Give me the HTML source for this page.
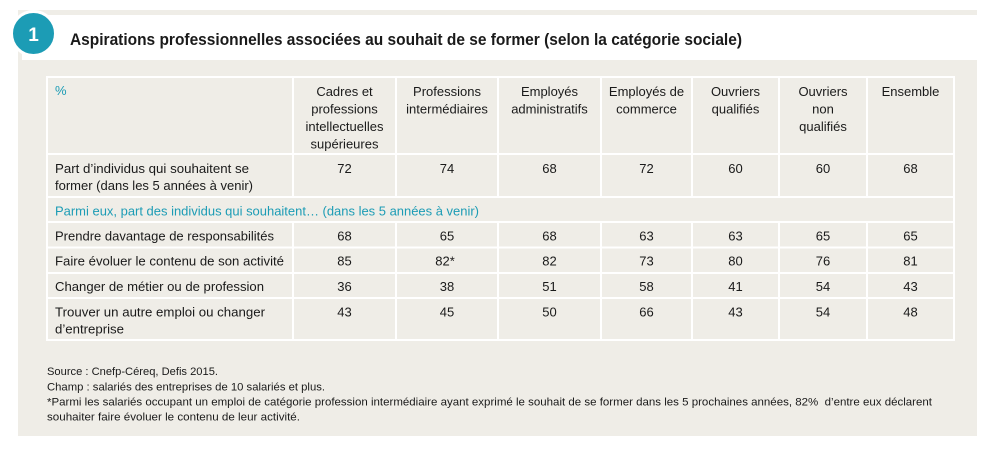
<!DOCTYPE html>
<html>
<head>
<meta charset="utf-8">
<style>
  html, body { margin: 0; padding: 0; background: #ffffff; }
  svg { display: block; }
  text { font-family: "Liberation Sans", "DejaVu Sans", sans-serif; fill: #1a1a1a; }
  .t { font-size: 13px; }
  .c { text-anchor: middle; }
  .teal { fill: #1c9cb5; }
  .f { font-size: 11px; }
</style>
</head>
<body>
<svg width="1000" height="450" viewBox="0 0 1000 450" xmlns="http://www.w3.org/2000/svg">
  <!-- panel -->
  <rect x="18" y="10" width="959" height="426" fill="#efede7"/>
  <!-- title band -->
  <rect x="22" y="15" width="955" height="45" fill="#ffffff"/>
  <!-- circle -->
  <circle cx="33.5" cy="33.5" r="22" fill="#1c9cb5" stroke="#ffffff" stroke-width="3"/>
  <text x="33.5" y="41" text-anchor="middle" font-size="19" font-weight="bold" style="fill:#ffffff">1</text>
  <!-- title -->
  <text x="70" y="45" font-size="16.5" font-weight="bold" textLength="672" lengthAdjust="spacingAndGlyphs">Aspirations professionnelles associées au souhait de se former (selon la catégorie sociale)</text>

  <!-- table grid -->
  <g stroke="#ffffff" stroke-width="2" fill="none">
    <rect x="47" y="77" width="907" height="263"/>
    <line x1="47" y1="154" x2="954" y2="154"/>
    <line x1="47" y1="197" x2="954" y2="197"/>
    <line x1="47" y1="222" x2="954" y2="222"/>
    <line x1="47" y1="247.5" x2="954" y2="247.5"/>
    <line x1="47" y1="273" x2="954" y2="273"/>
    <line x1="47" y1="298" x2="954" y2="298"/>
    <g>
      <line x1="293" y1="77" x2="293" y2="197"/>
      <line x1="396" y1="77" x2="396" y2="197"/>
      <line x1="498" y1="77" x2="498" y2="197"/>
      <line x1="601" y1="77" x2="601" y2="197"/>
      <line x1="692" y1="77" x2="692" y2="197"/>
      <line x1="779" y1="77" x2="779" y2="197"/>
      <line x1="867" y1="77" x2="867" y2="197"/>
      <line x1="293" y1="222" x2="293" y2="340"/>
      <line x1="396" y1="222" x2="396" y2="340"/>
      <line x1="498" y1="222" x2="498" y2="340"/>
      <line x1="601" y1="222" x2="601" y2="340"/>
      <line x1="692" y1="222" x2="692" y2="340"/>
      <line x1="779" y1="222" x2="779" y2="340"/>
      <line x1="867" y1="222" x2="867" y2="340"/>
    </g>
  </g>

  <!-- header -->
  <text class="t teal" x="55" y="95">%</text>
  <g class="t c">
    <text class="t c" x="344.5" y="96">Cadres et</text>
    <text class="t c" x="344.5" y="113.5">professions</text>
    <text class="t c" x="344.5" y="131">intellectuelles</text>
    <text class="t c" x="344.5" y="148.5">supérieures</text>

    <text class="t c" x="447" y="96">Professions</text>
    <text class="t c" x="447" y="113.5">intermédiaires</text>

    <text class="t c" x="549.5" y="96">Employés</text>
    <text class="t c" x="549.5" y="113.5">administratifs</text>

    <text class="t c" x="646.5" y="96">Employés de</text>
    <text class="t c" x="646.5" y="113.5">commerce</text>

    <text class="t c" x="735.5" y="96">Ouvriers</text>
    <text class="t c" x="735.5" y="113.5">qualifiés</text>

    <text class="t c" x="823" y="96">Ouvriers</text>
    <text class="t c" x="823" y="113.5">non</text>
    <text class="t c" x="823" y="131">qualifiés</text>

    <text class="t c" x="910.5" y="96">Ensemble</text>
  </g>

  <!-- row 1 -->
  <text class="t" x="55" y="173" textLength="194" lengthAdjust="spacingAndGlyphs">Part d’individus qui souhaitent se</text>
  <text class="t" x="55" y="190" textLength="198" lengthAdjust="spacingAndGlyphs">former (dans les 5 années à venir)</text>
  <text class="t c" x="344.5" y="173">72</text>
  <text class="t c" x="447" y="173">74</text>
  <text class="t c" x="549.5" y="173">68</text>
  <text class="t c" x="646.5" y="173">72</text>
  <text class="t c" x="735.5" y="173">60</text>
  <text class="t c" x="823" y="173">60</text>
  <text class="t c" x="910.5" y="173">68</text>

  <!-- subheader -->
  <text class="t teal" x="55" y="215.5" textLength="424" lengthAdjust="spacingAndGlyphs">Parmi eux, part des individus qui souhaitent… (dans les 5 années à venir)</text>

  <!-- Prendre -->
  <text class="t" x="55" y="240.5" textLength="219" lengthAdjust="spacingAndGlyphs">Prendre davantage de responsabilités</text>
  <text class="t c" x="344.5" y="240.5">68</text>
  <text class="t c" x="447" y="240.5">65</text>
  <text class="t c" x="549.5" y="240.5">68</text>
  <text class="t c" x="646.5" y="240.5">63</text>
  <text class="t c" x="735.5" y="240.5">63</text>
  <text class="t c" x="823" y="240.5">65</text>
  <text class="t c" x="910.5" y="240.5">65</text>

  <!-- Faire -->
  <text class="t" x="55" y="265.5" textLength="229" lengthAdjust="spacingAndGlyphs">Faire évoluer le contenu de son activité</text>
  <text class="t c" x="344.5" y="265.5">85</text>
  <text class="t c" x="445" y="265.5">82*</text>
  <text class="t c" x="549.5" y="265.5">82</text>
  <text class="t c" x="646.5" y="265.5">73</text>
  <text class="t c" x="735.5" y="265.5">80</text>
  <text class="t c" x="823" y="265.5">76</text>
  <text class="t c" x="910.5" y="265.5">81</text>

  <!-- Changer -->
  <text class="t" x="55" y="291" textLength="209" lengthAdjust="spacingAndGlyphs">Changer de métier ou de profession</text>
  <text class="t c" x="344.5" y="291">36</text>
  <text class="t c" x="447" y="291">38</text>
  <text class="t c" x="549.5" y="291">51</text>
  <text class="t c" x="646.5" y="291">58</text>
  <text class="t c" x="735.5" y="291">41</text>
  <text class="t c" x="823" y="291">54</text>
  <text class="t c" x="910.5" y="291">43</text>

  <!-- Trouver -->
  <text class="t" x="55" y="316.5" textLength="210" lengthAdjust="spacingAndGlyphs">Trouver un autre emploi ou changer</text>
  <text class="t" x="55" y="333.5" textLength="69" lengthAdjust="spacingAndGlyphs">d’entreprise</text>
  <text class="t c" x="344.5" y="316.5">43</text>
  <text class="t c" x="447" y="316.5">45</text>
  <text class="t c" x="549.5" y="316.5">50</text>
  <text class="t c" x="646.5" y="316.5">66</text>
  <text class="t c" x="735.5" y="316.5">43</text>
  <text class="t c" x="823" y="316.5">54</text>
  <text class="t c" x="910.5" y="316.5">48</text>

  <!-- footer -->
  <text class="f" x="47" y="375" textLength="171" lengthAdjust="spacingAndGlyphs">Source : Cnefp-Céreq, Defis 2015.</text>
  <text class="f" x="47" y="390.5" textLength="278" lengthAdjust="spacingAndGlyphs">Champ : salariés des entreprises de 10 salariés et plus.</text>
  <text class="f" x="47" y="405.5" textLength="885" lengthAdjust="spacingAndGlyphs" xml:space="preserve">*Parmi les salariés occupant un emploi de catégorie profession intermédiaire ayant exprimé le souhait de se former dans les 5 prochaines années, 82%  d’entre eux déclarent</text>
  <text class="f" x="47" y="420.5" textLength="253" lengthAdjust="spacingAndGlyphs">souhaiter faire évoluer le contenu de leur activité.</text>
</svg>
</body>
</html>
